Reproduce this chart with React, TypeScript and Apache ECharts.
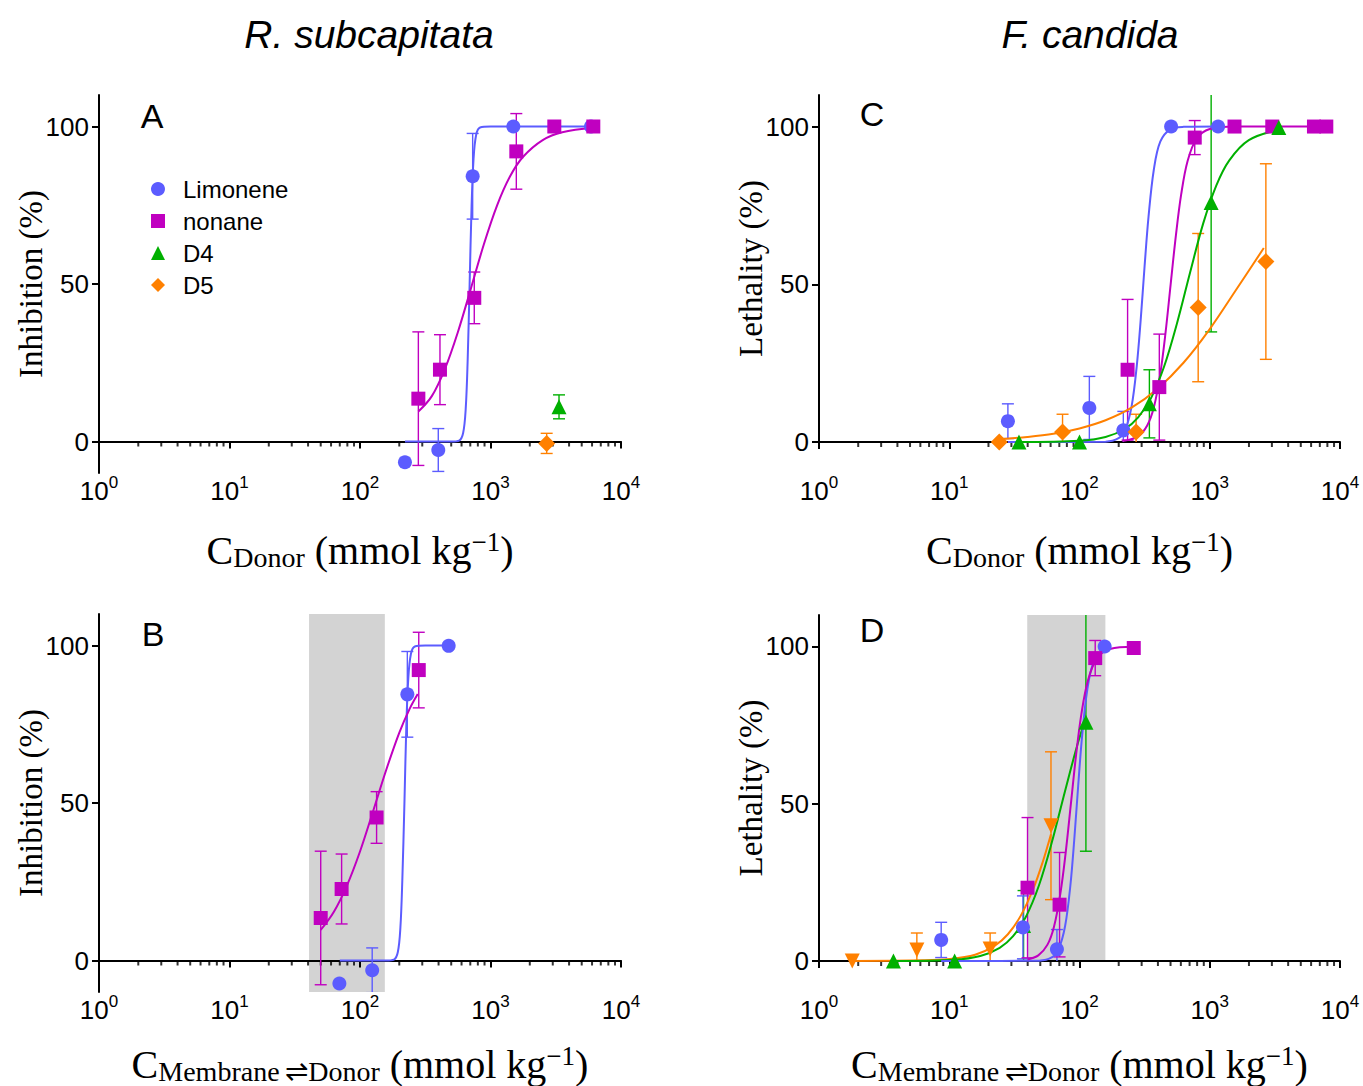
import React, { useEffect, useRef } from "react";
import * as echarts from "echarts";

const COMPOUNDS = ["Limonene", "nonane", "D4", "D5"];
const COLOR_LIM = "#5c5cff";
const COLOR_NON = "#c000c0";
const COLOR_D4 = "#00b000";
const COLOR_D5 = "#ff8000";

const X_DECADES = [1, 10, 100, 1000];
const X_MINOR_MULT = [2, 3, 4, 5, 6, 7, 8, 9];
const Y_TICKS = [0, 50, 100];

// ---------- Panel A: R. subcapitata, C_Donor ----------
const limA_x = [221, 398, 730, 1496, 5890];
const limA_y = [-6.6, -2.7, 84.2, 100, 100];
const limA_sd = [0, 6.8, 13.6, 0, 0];
const limA_fx = [221, 501, 575, 617, 646, 668, 692, 716, 741, 776, 832, 1000, 5890];
const limA_fy = [0, 0, 0.3, 2.7, 10.5, 25.5, 50, 74.5, 89.5, 97.3, 99.7, 100, 100];

const nonA_x = [280, 410, 751, 1577, 3083, 6135];
const nonA_y = [13.6, 22.8, 45.6, 92.1, 100, 100];
const nonA_sd = [21.2, 11.1, 8.2, 12, 0, 0];
const nonA_fx = [280, 355, 447, 562, 708, 891, 1122, 1413, 1778, 2512, 3548, 6137];
const nonA_fy = [9.5, 14.4, 23, 34.7, 48.6, 62.7, 74.9, 84.2, 90.4, 95.7, 98.2, 99.5];

const d4A_x = [3350];
const d4A_y = [11];
const d4A_sd = [3.8];

const d5A_x = [2694];
const d5A_y = [-0.6];
const d5A_sd = [3.2];

// ---------- Panel B: R. subcapitata, C_Membrane⇌Donor ----------
const limB_x = [69.5, 124, 230.5, 478];
const limB_y = [-7.3, -3.1, 84.5, 99.9];
const limB_sd = [0, 7.1, 13.6, 0];
const limB_fx = [70, 158, 182, 195, 204, 211, 219, 226.5, 234.4, 245.5, 263, 316, 479];
const limB_fy = [0, 0, 0.3, 2.7, 10.5, 25.5, 50, 74.5, 89.5, 97.3, 99.7, 100, 100];

const nonB_x = [50, 72.3, 134, 282];
const nonB_y = [13.5, 22.7, 45.4, 92.2];
const nonB_sd = [21.2, 11.1, 8.2, 12];
const nonB_fx = [50, 63.1, 79.4, 100, 126, 158.5, 199.5, 240, 277];
const nonB_fy = [9.7, 15.5, 23.8, 34.6, 47.4, 60.4, 72.2, 79.9, 84.6];

const shadeB = [40.7, 155];

// ---------- Panel C: F. candida, C_Donor ----------
const limC_x = [28.2, 119, 217, 505, 1159];
const limC_y = [6.6, 10.8, 3.7, 100, 100];
const limC_sd = [5.5, 10, 6, 0, 0];
const limC_fx = [28.2, 158.5, 199.5, 224, 251, 275, 295, 316, 339, 372, 417, 501, 631, 1159];
const limC_fy = [0, 0.1, 1.2, 3.8, 11.2, 24, 38.7, 55.7, 71.5, 86.3, 95.2, 99.2, 99.9, 100];

const nonC_x = [234, 410, 767, 1549, 3020, 6310, 7850];
const nonC_y = [22.9, 17.4, 96.5, 100, 100, 100, 100];
const nonC_sd = [22.3, 16.8, 5.4, 0, 0, 0, 0];
const nonC_fx = [214, 282, 331, 372, 417, 457, 501, 550, 603, 676, 794, 1000, 1585, 7850];
const nonC_fy = [0.3, 1.8, 5.2, 10.9, 21.6, 34.4, 50, 65.6, 78.4, 89.1, 96.2, 99.2, 100, 100];

const d4C_x = [34.3, 100, 344, 1025, 3390];
const d4C_y = [0, 0, 12.1, 75.9, 99.7];
const d4C_sd = [0, 0, 10.8, 41, 0];
const d4C_fx = [34.3, 100, 158.5, 224, 282, 355, 447, 562, 708, 891, 1122, 1413, 1995, 3390];
const d4C_fy = [0, 0.4, 1.6, 4.2, 7.8, 14, 24, 37.8, 53.9, 69.3, 81.3, 89.3, 95.7, 99];

const d5C_x = [24.2, 74.1, 272, 815, 2697];
const d5C_y = [0, 3.2, 3.2, 42.6, 57.2];
const d5C_sd = [0, 5.6, 5.6, 23.5, 31];
const d5C_fx = [24.2, 39.8, 63.1, 100, 158.5, 251, 398, 631, 1000, 1585, 2600];
const d5C_fy = [0.9, 1.6, 2.6, 4.3, 6.9, 10.9, 16.9, 25.2, 35.8, 48.1, 61.5];

// ---------- Panel D: F. candida, C_Membrane⇌Donor ----------
const limD_x = [8.67, 36.8, 67.1, 156];
const limD_y = [6.7, 10.7, 3.7, 100];
const limD_sd = [5.6, 10, 6.3, 0];
const limD_fx = [8.67, 49, 61.7, 69.2, 77.6, 85.1, 91.2, 97.7, 104.7, 114.8, 128.8, 156];
const limD_fy = [0, 0.1, 1.2, 3.8, 11.2, 24, 38.7, 55.7, 71.5, 86.3, 95.2, 99.3];

const nonD_x = [39.9, 70.3, 132, 261];
const nonD_y = [23.3, 17.9, 96.3, 99.5];
const nonD_sd = [22.3, 16.6, 5.6, 0];
const nonD_fx = [39.9, 48.3, 56.8, 63.7, 71.4, 78.3, 85.9, 94.2, 103.3, 115.9, 136.1, 171.4, 260.6];
const nonD_fy = [0.5, 1.8, 5.2, 10.9, 21.6, 34.4, 50, 65.6, 78.4, 89.1, 96.2, 99.2, 99.9];

const d4D_x = [3.73, 11.0, 37.2, 112];
const d4D_y = [0, 0, 11.3, 75.9];
const d4D_sd = [0, 0, 11.1, 41];
const d4D_fx = [3.73, 10.9, 17.3, 24.4, 30.8, 38.7, 48.8, 61.4, 77.3, 97.2, 112.2];
const d4D_fy = [0, 0.4, 1.6, 4.2, 7.8, 14, 24, 37.8, 53.9, 69.3, 77.2];

const d5D_x = [1.8, 5.64, 20.6, 60.4];
const d5D_y = [0, 3.5, 3.8, 43];
const d5D_sd = [0, 5.4, 5.1, 23.5];
const d5D_fx = [1.8, 6.3, 10, 15.8, 22.4, 28.2, 35.5, 44.7, 52.5, 60.4];
const d5D_fy = [0, 0.2, 0.6, 2.0, 4.9, 8.5, 14.5, 23.5, 31.8, 40.3];

const shadeD = [39.7, 158];

// ---------- texts ----------
const TITLE_LEFT = "R. subcapitata";
const TITLE_RIGHT = "F. candida";
const Y_NAME_TOP_LEFT = "Inhibition (%)";
const Y_NAME_RIGHT = "Lethality (%)";
const X_NAME_DONOR = "{m|C}{sub|Donor}{m| (mmol kg}{sup|−1}{m|)}";
const X_NAME_MEMBRANE = "{m|C}{sub|Membrane\u2009⇌Donor}{m| (mmol kg}{sup|−1}{m|)}";

type Comp = {
  name: string;
  color: string;
  symbol: string;
  size: number;
  rotate?: number;
  x: number[];
  y: number[];
  sd: number[];
  fx?: number[];
  fy?: number[];
};

type Panel = {
  letter: string;
  grid: { left: number; top: number; width: number; height: number };
  yMin: number;
  yName: string;
  xName: string;
  labelMargin: number;
  nameGap: number;
  shade?: number[];
  comps: Comp[];
};

const SANS = "Liberation Sans";
const SERIF = "Liberation Serif";

const panels: Panel[] = [
  {
    letter: "A",
    grid: { left: 99, top: 95, width: 522, height: 378 },
    yMin: -10,
    yName: Y_NAME_TOP_LEFT,
    xName: X_NAME_DONOR,
    labelMargin: 1,
    nameGap: 55,
    comps: [
      { name: "Limonene", color: COLOR_LIM, symbol: "circle", size: 14, x: limA_x, y: limA_y, sd: limA_sd, fx: limA_fx, fy: limA_fy },
      { name: "nonane", color: COLOR_NON, symbol: "rect", size: 14, x: nonA_x, y: nonA_y, sd: nonA_sd, fx: nonA_fx, fy: nonA_fy },
      { name: "D4", color: COLOR_D4, symbol: "triangle", size: 15, x: d4A_x, y: d4A_y, sd: d4A_sd },
      { name: "D5", color: COLOR_D5, symbol: "diamond", size: 17, x: d5A_x, y: d5A_y, sd: d5A_sd },
    ],
  },
  {
    letter: "B",
    grid: { left: 99, top: 614, width: 522, height: 378 },
    yMin: -10,
    yName: Y_NAME_TOP_LEFT,
    xName: X_NAME_MEMBRANE,
    labelMargin: 1,
    nameGap: 50,
    shade: shadeB,
    comps: [
      { name: "Limonene", color: COLOR_LIM, symbol: "circle", size: 14, x: limB_x, y: limB_y, sd: limB_sd, fx: limB_fx, fy: limB_fy },
      { name: "nonane", color: COLOR_NON, symbol: "rect", size: 14, x: nonB_x, y: nonB_y, sd: nonB_sd, fx: nonB_fx, fy: nonB_fy },
    ],
  },
  {
    letter: "C",
    grid: { left: 819, top: 95, width: 521, height: 347 },
    yMin: 0,
    yName: Y_NAME_RIGHT,
    xName: X_NAME_DONOR,
    labelMargin: 32,
    nameGap: 86,
    comps: [
      { name: "Limonene", color: COLOR_LIM, symbol: "circle", size: 14, x: limC_x, y: limC_y, sd: limC_sd, fx: limC_fx, fy: limC_fy },
      { name: "nonane", color: COLOR_NON, symbol: "rect", size: 14, x: nonC_x, y: nonC_y, sd: nonC_sd, fx: nonC_fx, fy: nonC_fy },
      { name: "D4", color: COLOR_D4, symbol: "triangle", size: 15, x: d4C_x, y: d4C_y, sd: d4C_sd, fx: d4C_fx, fy: d4C_fy },
      { name: "D5", color: COLOR_D5, symbol: "diamond", size: 17, x: d5C_x, y: d5C_y, sd: d5C_sd, fx: d5C_fx, fy: d5C_fy },
    ],
  },
  {
    letter: "D",
    grid: { left: 819, top: 615, width: 521, height: 346 },
    yMin: 0,
    yName: Y_NAME_RIGHT,
    xName: X_NAME_MEMBRANE,
    labelMargin: 32,
    nameGap: 81,
    shade: shadeD,
    comps: [
      { name: "D5", color: COLOR_D5, symbol: "triangle", size: 15, rotate: 180, x: d5D_x, y: d5D_y, sd: d5D_sd, fx: d5D_fx, fy: d5D_fy },
      { name: "D4", color: COLOR_D4, symbol: "triangle", size: 15, x: d4D_x, y: d4D_y, sd: d4D_sd, fx: d4D_fx, fy: d4D_fy },
      { name: "Limonene", color: COLOR_LIM, symbol: "circle", size: 14, x: limD_x, y: limD_y, sd: limD_sd, fx: limD_fx, fy: limD_fy },
      { name: "nonane", color: COLOR_NON, symbol: "rect", size: 14, x: nonD_x, y: nonD_y, sd: nonD_sd, fx: nonD_fx, fy: nonD_fy },
    ],
  },
];

const LETTER_POS: Record<string, [number, number]> = {
  A: [152, 116],
  B: [153, 634],
  C: [872, 114],
  D: [872, 630],
};

function buildOption() {
  const grids: any[] = [];
  const xAxes: any[] = [];
  const yAxes: any[] = [];
  const series: any[] = [];
  const axisLineStyle = { color: "#000", width: 2 };

  const minorTicks: number[] = [];
  X_DECADES.forEach((d) => X_MINOR_MULT.forEach((m) => minorTicks.push(m * d)));

  panels.forEach((p, i) => {
    grids.push({ ...p.grid, containLabel: false, outerBoundsMode: "none" });
    xAxes.push({
      type: "log",
      logBase: 10,
      gridIndex: i,
      min: 1,
      max: 10000,
      axisLine: { show: true, onZero: true, lineStyle: axisLineStyle },
      axisTick: { show: true, length: 7, inside: false, lineStyle: { color: "#000", width: 2 } },
      minorTick: { show: false },
      splitLine: { show: false },
      axisLabel: {
        margin: p.labelMargin,
        formatter: (v: number) => `{b|10}{s|${Math.round(Math.log10(v))}}`,
        rich: {
          b: { fontSize: 26, fontFamily: SANS, color: "#000" },
          s: { fontSize: 17, fontFamily: SANS, color: "#000", padding: [0, 0, 16, 0] },
        },
      },
      name: p.xName,
      nameLocation: "middle",
      nameGap: p.nameGap,
      nameMoveOverlap: false,
      nameTextStyle: {
        rich: {
          m: { fontSize: 40, fontFamily: SERIF, color: "#000" },
          sub: { fontSize: 28, fontFamily: SERIF, color: "#000", padding: [15, 0, 0, 0] },
          sup: { fontSize: 27, fontFamily: SERIF, color: "#000", padding: [0, 0, 17, 0] },
        },
      },
    });
    yAxes.push({
      type: "value",
      gridIndex: i,
      min: p.yMin,
      max: 110,
      axisLine: { show: true, onZero: false, lineStyle: axisLineStyle },
      axisTick: { show: true, length: 7, customValues: Y_TICKS, lineStyle: { color: "#000", width: 2 } },
      axisLabel: { customValues: Y_TICKS, fontSize: 26, fontFamily: SANS, color: "#000", margin: 10 },
      splitLine: { show: false },
      name: p.yName,
      nameLocation: "middle",
      nameGap: 52,
      nameMoveOverlap: false,
      nameTextStyle: { fontSize: 33, fontFamily: SERIF, color: "#000" },
    });

    if (p.shade) {
      series.push({
        type: "custom",
        xAxisIndex: i,
        yAxisIndex: i,
        silent: true,
        z: -1,
        data: [[p.shade[0], p.shade[1], 0]],
        encode: { x: [0, 1], y: 2 },
        renderItem: (params: any, api: any) => {
          const a = api.coord([api.value(0), 0]);
          const b = api.coord([api.value(1), 0]);
          const cs = params.coordSys;
          return {
            type: "rect",
            shape: { x: a[0], y: cs.y, width: b[0] - a[0], height: cs.height },
            style: { fill: "#d3d3d3" },
          };
        },
      });
    }

    series.push({
      type: "scatter",
      xAxisIndex: i,
      yAxisIndex: i,
      silent: true,
      z: 1,
      symbol: "rect",
      symbolSize: [2, 5],
      symbolOffset: [0, 2.5],
      itemStyle: { color: "#000" },
      data: minorTicks.map((v) => [v, 0]),
    });

    p.comps.forEach((c) => {
      const bars = c.x
        .map((xv, k) => [xv, c.y[k] - c.sd[k], c.y[k] + c.sd[k], c.sd[k]])
        .filter((r) => r[3] > 0);
      if (bars.length) {
        series.push({
          type: "custom",
          xAxisIndex: i,
          yAxisIndex: i,
          silent: true,
          clip: true,
          z: 2,
          data: bars,
          encode: { x: 0, y: [1, 2] },
          renderItem: (_params: any, api: any) => {
            const x = api.value(0);
            const top = api.coord([x, api.value(2)]);
            const bot = api.coord([x, api.value(1)]);
            const hw = 6;
            const st = { stroke: c.color, lineWidth: 1.4 };
            return {
              type: "group",
              children: [
                { type: "line", shape: { x1: top[0], y1: top[1], x2: bot[0], y2: bot[1] }, style: st },
                { type: "line", shape: { x1: top[0] - hw, y1: top[1], x2: top[0] + hw, y2: top[1] }, style: st },
                { type: "line", shape: { x1: bot[0] - hw, y1: bot[1], x2: bot[0] + hw, y2: bot[1] }, style: st },
              ],
            };
          },
        });
      }
      if (c.fx && c.fy) {
        series.push({
          type: "line",
          name: c.name + " fit",
          xAxisIndex: i,
          yAxisIndex: i,
          silent: true,
          z: 3,
          showSymbol: false,
          symbol: "none",
          smooth: 0.35,
          lineStyle: { color: c.color, width: 2 },
          data: c.fx.map((xv, k) => [xv, c.fy![k]]),
        });
      }
      series.push({
        type: "scatter",
        name: c.name,
        xAxisIndex: i,
        yAxisIndex: i,
        z: 4,
        symbol: c.symbol,
        symbolSize: c.size,
        symbolRotate: c.rotate || 0,
        itemStyle: { color: c.color, opacity: 1 },
        data: c.x.map((xv, k) => [xv, c.y[k]]),
      });
    });
  });

  const graphic: any[] = [
    {
      type: "text",
      x: 369,
      y: 34,
      style: { text: TITLE_LEFT, fontSize: 39, fontStyle: "italic", fontFamily: SANS, fill: "#000", align: "center", verticalAlign: "middle" },
    },
    {
      type: "text",
      x: 1090,
      y: 34,
      style: { text: TITLE_RIGHT, fontSize: 39, fontStyle: "italic", fontFamily: SANS, fill: "#000", align: "center", verticalAlign: "middle" },
    },
  ];
  panels.forEach((p) => {
    const pos = LETTER_POS[p.letter];
    graphic.push({
      type: "text",
      x: pos[0],
      y: pos[1],
      style: { text: p.letter, fontSize: 34, fontFamily: SANS, fill: "#000", align: "center", verticalAlign: "middle" },
    });
  });

  return {
    animation: false,
    backgroundColor: "#ffffff",
    grid: grids,
    xAxis: xAxes,
    yAxis: yAxes,
    legend: {
      data: COMPOUNDS,
      orient: "vertical",
      left: 146,
      top: 172,
      itemWidth: 14,
      itemHeight: 14,
      itemGap: 8,
      selectedMode: false,
      textStyle: { fontSize: 24, fontFamily: SANS, color: "#000", padding: [0, 0, 0, 13] },
    },
    graphic,
    series,
  };
}

export default function App() {
  const ref = useRef<HTMLDivElement>(null);
  useEffect(() => {
    document.body.style.margin = "0";
    if (!ref.current) return;
    const chart = echarts.init(ref.current, undefined, { renderer: "svg" });
    chart.setOption(buildOption() as any);
    return () => chart.dispose();
  }, []);
  return <div ref={ref} style={{ width: 1363, height: 1086 }} />;
}
